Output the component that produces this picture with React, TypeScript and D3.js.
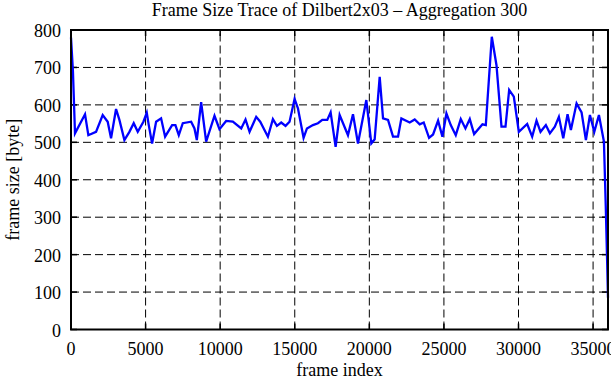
import React from "react";
import * as d3 from "d3";

const frameIndex = [
  0, 130, 268, 940, 1163, 1678, 2125, 2460, 2685, 3020, 3245, 3580, 3915, 4205, 4475, 4855, 5080, 5213,
  5436, 5705, 6040, 6309, 6779, 7000, 7226, 7495, 8054, 8277, 8434, 8725, 9060, 9620, 9955, 10400,
  10850, 11410, 11700, 11970, 12416, 12685, 13200, 13535, 13805, 14094, 14383, 14651, 14989, 15213,
  15592, 15817, 16219, 16555, 16846, 17181, 17405, 17740, 18009, 18568, 18904, 19239, 19799, 20134,
  20358, 20694, 20918, 21253, 21588, 21924, 22148, 22707, 23042, 23378, 23646, 24004, 24273, 24609,
  24899, 25168, 25459, 25794, 26130, 26443, 26734, 27024, 27584, 27808, 28210, 28524, 28859, 29128,
  29374, 29686, 30022, 30582, 30917, 31208, 31476, 31834, 32103, 32437, 32707, 33000, 33289, 33512,
  33893, 34228, 34519, 34788, 35081, 35392, 35727, 35850, 35950, 36000,
];
const frameSize = [
  780, 690, 524, 575, 519, 528, 573, 555, 511, 589, 560, 506, 528, 551, 528, 555, 579, 546,
  497, 555, 564, 515, 546, 546, 519, 551, 555, 537, 506, 607, 502, 571, 535, 557,
  555, 537, 561, 528, 568, 555, 515, 562, 544, 553, 544, 555, 616, 591,
  512, 537, 546, 551, 560, 560, 580, 488, 573, 519, 575, 497, 613, 497,
  508, 675, 564, 560, 515, 515, 564, 553, 561, 548, 553, 512, 521, 558,
  515, 577, 546, 519, 562, 537, 562, 522, 548, 546, 782, 706, 542, 542,
  640, 622, 528, 549, 515, 558, 528, 546, 524, 542, 568, 511, 575, 533,
  604, 580, 506, 573, 528, 573, 502, 330, 170, 85,
];
const xTicks = [0, 5000, 10000, 15000, 20000, 25000, 30000, 35000];
const yTicks = [0, 100, 200, 300, 400, 500, 600, 700, 800];
const titleText = "Frame Size Trace of Dilbert2x03 \u2013 Aggregation 300";
const xLabel = "frame index";
const yLabel = "frame size [byte]";

const W = 611;
const H = 380;
const left = 71;
const right = 608;
const top = 30;
const bottom = 329.5;
const font = "'Liberation Serif', 'Times New Roman', serif";

export default function App() {
  const x = d3.scaleLinear().domain([0, 36000]).range([left, right]);
  const y = d3.scaleLinear().domain([0, 800]).range([bottom, top]);
  const pts: [number, number][] = frameIndex.map((f, i) => [f, frameSize[i]]);
  const line = d3
    .line<[number, number]>()
    .x((d) => x(d[0]))
    .y((d) => y(d[1]));
  const tickLen = 6;
  return (
    <svg
      width={W}
      height={H}
      style={{ position: "absolute", left: 0, top: 0, background: "#fff" }}
      fontFamily={font}
    >
      <rect x={0} y={0} width={W} height={H} fill="#fff" />
      {/* grid */}
      {xTicks
        .filter((t) => t > 0)
        .map((t) => (
          <line
            key={"gx" + t}
            x1={x(t)}
            x2={x(t)}
            y1={bottom}
            y2={top}
            stroke="#000"
            strokeWidth={1}
            strokeDasharray="8,4"
          />
        ))}
      {yTicks
        .filter((t) => t > 0 && t < 800)
        .map((t) => (
          <line
            key={"gy" + t}
            x1={left}
            x2={right}
            y1={y(t)}
            y2={y(t)}
            stroke="#000"
            strokeWidth={1}
            strokeDasharray="8,4"
          />
        ))}
      {/* ticks */}
      {xTicks.map((t) => (
        <g key={"tx" + t}>
          <line x1={x(t)} x2={x(t)} y1={bottom} y2={bottom - tickLen} stroke="#000" strokeWidth={1.5} />
          <line x1={x(t)} x2={x(t)} y1={top} y2={top + tickLen} stroke="#000" strokeWidth={1.5} />
          <text x={x(t)} y={355} textAnchor="middle" fontSize={18} fill="#000">
            {t}
          </text>
        </g>
      ))}
      {yTicks.map((t) => (
        <g key={"ty" + t}>
          <line x1={left} x2={left + tickLen} y1={y(t)} y2={y(t)} stroke="#000" strokeWidth={1.5} />
          <line x1={right} x2={right - tickLen} y1={y(t)} y2={y(t)} stroke="#000" strokeWidth={1.5} />
          <text x={61} y={y(t) + 7} textAnchor="end" fontSize={18} fill="#000">
            {t}
          </text>
        </g>
      ))}
      {/* data */}
      <path d={line(pts) || ""} fill="none" stroke="#0000ff" strokeWidth={2.3} strokeLinejoin="miter" />
      {/* border */}
      <rect x={left} y={top} width={right - left} height={bottom - top} fill="none" stroke="#000" strokeWidth={2} />
      {/* labels */}
      <text x={(left + right) / 2} y={16} textAnchor="middle" fontSize={18} fill="#000">
        {titleText}
      </text>
      <text x={(left + right) / 2} y={376} textAnchor="middle" fontSize={18} fill="#000">
        {xLabel}
      </text>
      <text
        transform={`translate(19, ${(top + bottom) / 2}) rotate(-90)`}
        textAnchor="middle"
        fontSize={18}
        fill="#000"
      >
        {yLabel}
      </text>
    </svg>
  );
}
